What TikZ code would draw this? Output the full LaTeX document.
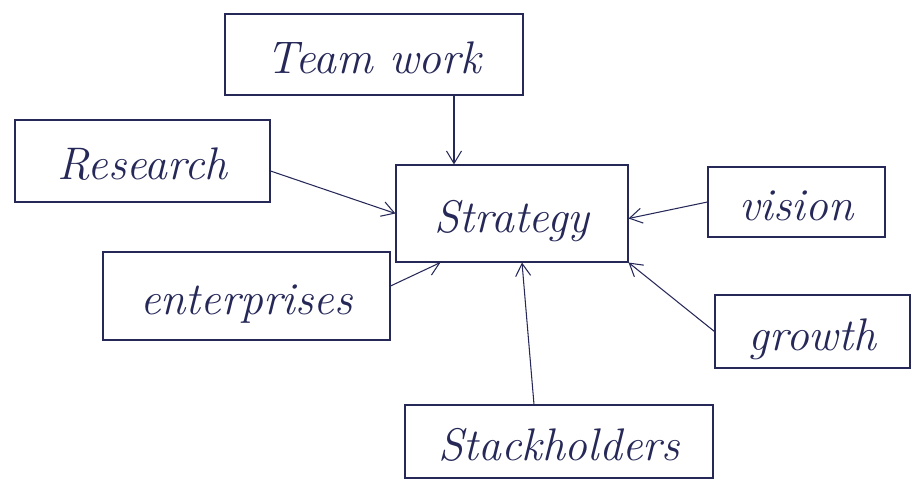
\documentclass[tikz,border=0pt]{standalone}
\usetikzlibrary{arrows.meta}
\definecolor{ink}{RGB}{38,40,88}
\tikzset{
  box/.style={draw=ink, semithick, rectangle, inner sep=2pt,
    text height=0.95cm, text depth=0.2cm,
    font=\fontsize{26}{30}\selectfont\itshape, text=ink},
  link/.style={draw=ink, semithick, -{Straight Barb[length=2.5mm,width=3mm]}}
}
\begin{document}
\begin{tikzpicture}
\useasboundingbox (0,0) rectangle (18.26,9.66);
%\draw [lightgray](0,0) grid (18,9);

\node [box, minimum width=5.96cm, minimum height=1.62cm] (team) at (7.48,8.57) {Team work};
\node [box, minimum width=5.10cm, minimum height=1.64cm] (research) at (2.85,6.44) {Research};
\node [box, minimum width=4.64cm, minimum height=1.94cm] (strategy) at (10.24,5.39) {Strategy}; % centre
\node [box, minimum width=3.54cm, minimum height=1.40cm] (vision) at (15.93,5.62) {vision};
\node [box, minimum width=5.74cm, minimum height=1.76cm] (enterprises) at (4.93,3.74) {enterprises};
\node [box, minimum width=3.90cm, minimum height=1.46cm] (growth) at (16.25,3.03) {growth};
\node [box, minimum width=6.16cm, minimum height=1.46cm] (stack) at (11.18,0.83) {Stackholders};

\draw [link] ([xshift=16mm]team.south) -- ([xshift=16mm]team.south |- strategy.north);
\draw [link] ([yshift=-2mm]research.east) -- (strategy.west);
\draw [link] ([yshift=2mm]enterprises.east) -- ([xshift=9mm]strategy.south west);
\draw [link] (vision.west) -- ([yshift=-1mm]strategy.east);
\draw [link] (growth.west) -- (strategy.south east);
\draw [link] ([xshift=-5mm]stack.north) -- ([xshift=2mm]strategy.south);

\end{tikzpicture}
\end{document}
